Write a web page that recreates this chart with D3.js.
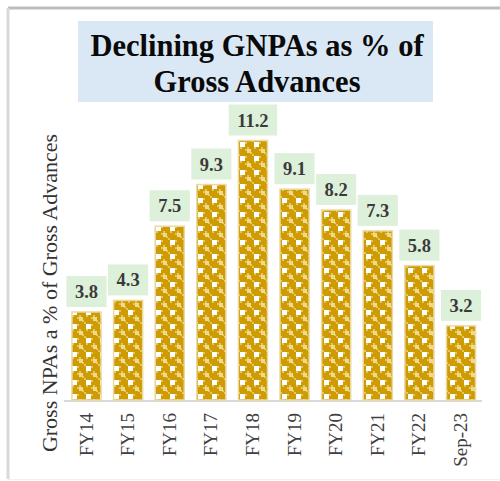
<!DOCTYPE html>
<html><head><meta charset="utf-8">
<script src="https://cdn.jsdelivr.net/npm/d3@7"></script>
<style>body{margin:0;background:#fff}svg{display:block}</style>
</head><body>
<script>
const categories = ["FY14","FY15","FY16","FY17","FY18","FY19","FY20","FY21","FY22","Sep-23"];
const values = [3.8,4.3,7.5,9.3,11.2,9.1,8.2,7.3,5.8,3.2];
const titleLines = ["Declining GNPAs as % of","Gross Advances"];
const yTitle = "Gross NPAs a % of Gross Advances";

const W=500,H=481;
const svg=d3.select("body").append("svg").attr("width",W).attr("height",H);
const defs=svg.append("defs");
const pat=defs.append("pattern").attr("id","lattice").attr("patternUnits","userSpaceOnUse")
  .attr("width",14).attr("height",14).attr("x",0).attr("y",0);
pat.append("rect").attr("width",14).attr("height",14).attr("fill","#CE9B02");
// light checker cells between squares
[[7,2],[2,7],[9,7],[7,9],[0,0],[12,12]].forEach(([a,b])=>pat.append("rect").attr("x",a).attr("y",b).attr("width",2).attr("height",2).attr("fill","#E4C660"));
pat.append("rect").attr("x",2).attr("y",2).attr("width",5).attr("height",5).attr("fill","#ffffff");
pat.append("rect").attr("x",9).attr("y",9).attr("width",4).attr("height",4).attr("fill","#EED98F");

// frame
svg.append("line").attr("x1",8).attr("x2",500).attr("y1",8).attr("y2",8).attr("stroke","#BDBDBD").attr("stroke-width",3);
svg.append("line").attr("x1",8).attr("x2",8).attr("y1",8).attr("y2",479).attr("stroke","#D9D9D9").attr("stroke-width",3);
svg.append("line").attr("x1",8).attr("x2",500).attr("y1",479.5).attr("y2",479.5).attr("stroke","#F0F0F0").attr("stroke-width",1);

// title
svg.append("rect").attr("x",78).attr("y",21).attr("width",355).attr("height",81).attr("fill","#DAE8F6");
svg.append("g").selectAll("text").data(titleLines).join("text")
  .attr("x",257).attr("y",(d,i)=>56+i*36).attr("text-anchor","middle")
  .attr("font-family","Liberation Serif, Times New Roman, serif").attr("font-weight","bold")
  .attr("font-size",30.5).attr("fill","#0a0a0a").text(d=>d);

const x=d3.scaleBand().domain(categories).range([65.7,481.8]).paddingInner(0.3).paddingOuter(0.15);
const y=d3.scaleLinear().domain([0,12]).range([400,122]);

// axis line
svg.append("line").attr("x1",64).attr("x2",482).attr("y1",y(0)+1).attr("y2",y(0)+1).attr("stroke","#D9D9D9").attr("stroke-width",2);

// bars
svg.append("g").selectAll("rect").data(values).join("rect")
  .attr("x",(d,i)=>x(categories[i]))
  .attr("y",d=>y(d))
  .attr("width",x.bandwidth())
  .attr("height",d=>y(0)-y(d))
  .attr("fill","url(#lattice)")
  .attr("stroke","#EBD9A0").attr("stroke-width",1.5);

// data labels
const lg=svg.append("g").selectAll("g").data(values).join("g");
lg.each(function(d,i){
  const g=d3.select(this);
  const cx=x(categories[i])+x.bandwidth()/2;
  const t=g.append("text").attr("x",cx).attr("y",y(d)-5-15.5).attr("dy","0.35em")
    .attr("text-anchor","middle").attr("font-family","Liberation Serif, Times New Roman, serif")
    .attr("font-weight","bold").attr("font-size",18.5).attr("fill","#3A3A3A").text(d.toFixed(1));
  const w=t.node().getComputedTextLength()+17;
  g.insert("rect","text").attr("x",cx-w/2).attr("y",y(d)-5-31).attr("width",w).attr("height",31).attr("fill","#DDF0DA");
});

// x labels
svg.append("g").selectAll("text").data(categories).join("text")
  .attr("transform",d=>`translate(${x(d)+x.bandwidth()/2+6},413) rotate(-90)`)
  .attr("text-anchor","end")
  .attr("font-family","Liberation Serif, Times New Roman, serif")
  .attr("font-size",19).attr("fill","#404040").text(d=>d);

// y title
svg.append("text").attr("transform","translate(57,293) rotate(-90)")
  .attr("text-anchor","middle").attr("font-family","Liberation Serif, Times New Roman, serif")
  .attr("font-size",22).attr("fill","#333").text(yTitle);
</script>
</body></html>
